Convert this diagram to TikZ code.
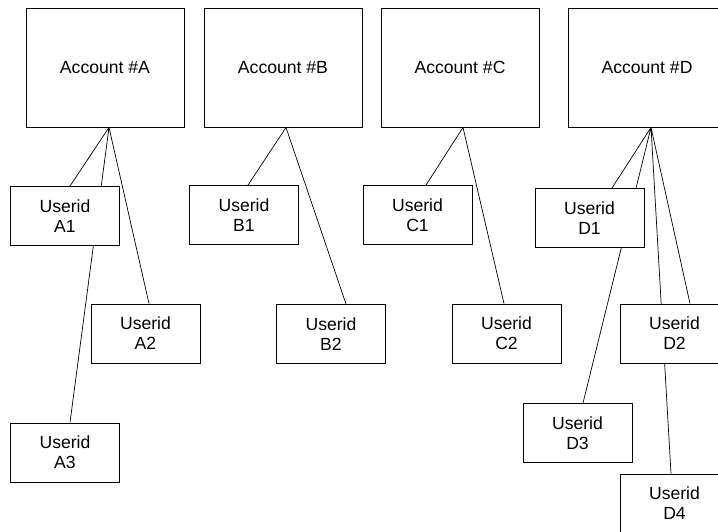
\documentclass[tikz,border=0pt]{standalone}
\usepackage{fontspec}
\setmainfont{Liberation Sans}
\usetikzlibrary{backgrounds}

\begin{document}
\begin{tikzpicture}[
    % Environment Config
    x=1pt, y=-1pt,
    font=\fontsize{17.6}{20}\selectfont,
    AccountBox/.style={% Style for the account boxes
      draw,
      fill=white,
      line width=0.9pt,
      minimum width=158pt,
      minimum height=119pt,
      inner sep=0pt
    },
    UserBox/.style={% Style for the userid boxes
      draw,
      fill=white,
      line width=0.9pt,
      minimum width=109pt,
      minimum height=59pt,
      align=center,
      inner sep=0pt
    },
    Link/.style={% Style for the connectors
      line width=0.7pt
    }
  ]

  % Fix the page size
  \useasboundingbox (0,0) rectangle (718,532);

  % Put the accounts in position
  \node[AccountBox] (AccA) at (105,67.5) {Account \#A};
  \node[AccountBox] (AccB) at (283,67.5) {Account \#B};
  \node[AccountBox] (AccC) at (460,67.5) {Account \#C};
  \node[AccountBox] (AccD) at (647,67.5) {Account \#D};

  % Put the userids
  %===Account A===
  \node[UserBox] (A1) at (65,216) {Userid\\A1};
  \node[UserBox] (A2) at (145.5,333.5) {Userid\\A2};
  \node[UserBox] (A3) at (65,452.5) {Userid\\A3};
  %===Account B===
  \node[UserBox] (B1) at (244,215) {Userid\\B1};
  \node[UserBox] (B2) at (331,334) {Userid\\B2};
  %===Account C===
  \node[UserBox] (C1) at (417.5,215) {Userid\\C1};
  \node[UserBox] (C2) at (506.5,333.5) {Userid\\C2};
  %===Account D===
  \node[UserBox] (D1) at (589.5,218) {Userid\\D1};
  \node[UserBox] (D2) at (674.5,333.5) {Userid\\D2};
  \node[UserBox] (D3) at (577.5,433) {Userid\\D3};
  \node[UserBox] (D4) at (674.5,503.5) {Userid\\D4};

  % Draw the links behind the boxes
  \begin{scope}[on background layer]
    \draw[Link]
    ([xshift=4pt]AccA.south) -- ([xshift=5pt]A1.north)
    ([xshift=4pt]AccA.south) -- ([xshift=3.5pt]A2.north)
    ([xshift=4pt]AccA.south) -- ([xshift=5pt]A3.north);
    \draw[Link]
    ([xshift=3pt]AccB.south) -- ([xshift=4pt]B1.north)
    ([xshift=3pt]AccB.south) -- ([xshift=15pt]B2.north);
    \draw[Link]
    ([xshift=3pt]AccC.south) -- ([xshift=8.5pt]C1.north)
    ([xshift=3pt]AccC.south) -- ([xshift=-2.5pt]C2.north);
    \draw[Link]
    ([xshift=4pt]AccD.south) -- ([xshift=22.5pt]D1.north)
    ([xshift=4pt]AccD.south) -- ([xshift=15.5pt]D2.north)
    ([xshift=4pt]AccD.south) -- ([xshift=5.5pt]D3.north)
    ([xshift=4pt]AccD.south) -- ([xshift=-3.5pt]D4.north);
  \end{scope}

\end{tikzpicture}
\end{document}
